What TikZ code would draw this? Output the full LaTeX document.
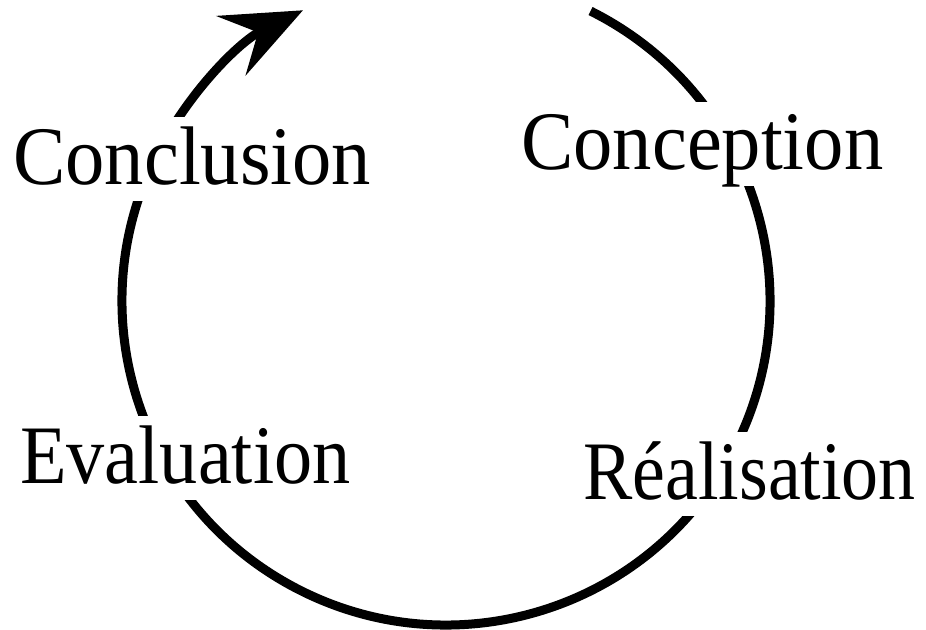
\documentclass[tikz,border=0pt]{standalone}
\usepackage{fontspec}
\setmainfont{Liberation Serif}
\usetikzlibrary{arrows.meta}
\tikzset{
  lbl/.style={anchor=base west, inner sep=0pt, fill=white, yscale=1.08, transform shape,
    font=\fontsize{77}{80}\selectfont, text height=63pt, text depth=15pt},
  cyc/.style={line width=9pt, -{Stealth[length=80pt, width=66pt, inset=30pt]}}
}
\begin{document}
\begin{tikzpicture}[x=1pt,y=1pt]
\useasboundingbox (0,0) rectangle (926,629);
\coordinate (c) at (446,328);
\draw[cyc] (c) ++(63.5:324) arc[start angle=63.5, end angle=-243.8, radius=324];
\node[lbl, xscale=1.02] (concl) at (13,444) {Conclusion};
\node[lbl, xscale=1.02] (conc) at (521,459) {Conception};
\node[lbl, xscale=0.99] (eval) at (20,145) {Evaluation};
\node[lbl, xscale=0.96] (real) at (583,129) {Réalisation};
\end{tikzpicture}
\end{document}
